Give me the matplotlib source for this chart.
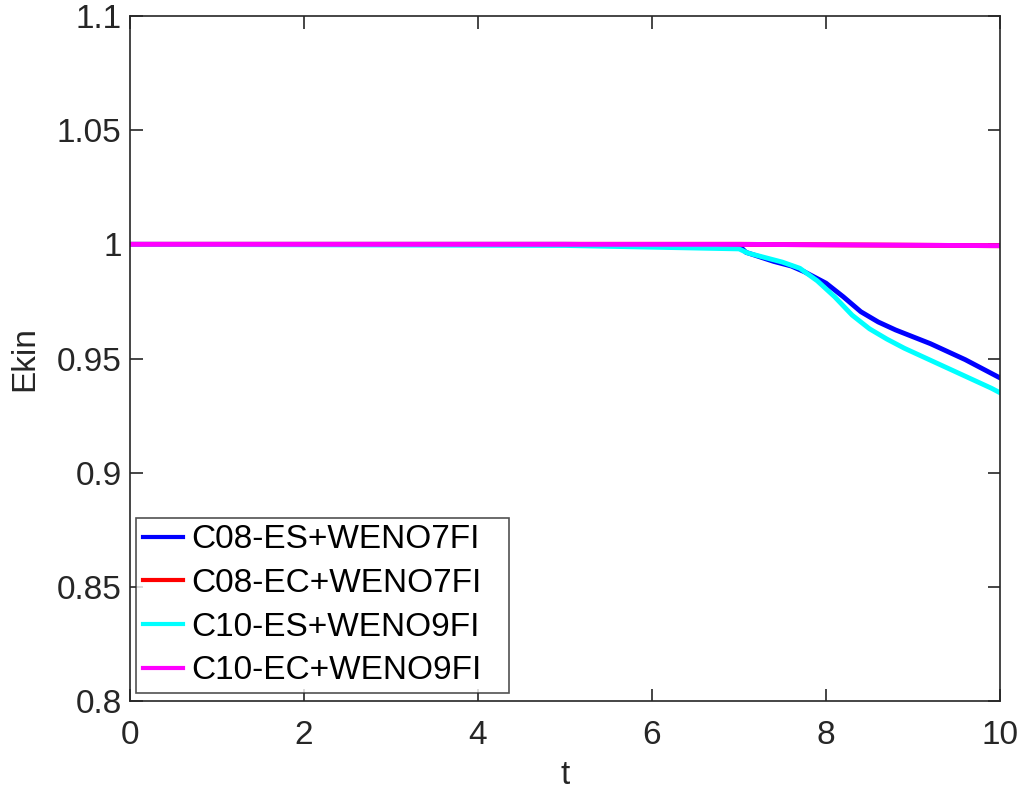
import numpy as np
import matplotlib
matplotlib.use("Agg")
import matplotlib.pyplot as plt

plt.rcParams['font.family'] = ['Liberation Sans', 'DejaVu Sans']

# data
t_blue = [0, 5, 7.0, 7.08, 7.2, 7.4, 7.6, 7.75, 7.9, 8.0, 8.2, 8.4, 8.6, 8.8, 9.0, 9.2, 9.4, 9.6, 9.8, 10]
e_blue = [1.0, 1.0, 0.9995, 0.9965, 0.9950, 0.9925, 0.9905, 0.9880, 0.9850, 0.9830, 0.9770, 0.9705,
          0.9660, 0.9625, 0.9595, 0.9565, 0.9530, 0.9495, 0.9455, 0.9415]

t_red = [0, 5, 7, 8, 9, 10]
e_red = [1.0, 1.0, 1.0, 0.9998, 0.9996, 0.9994]

t_cyan = [0, 5, 7.0, 7.1, 7.3, 7.5, 7.7, 7.9, 8.1, 8.3, 8.5, 8.7, 8.9, 9.1, 9.3, 9.5, 9.7, 9.9, 10]
e_cyan = [1.0, 0.9995, 0.998, 0.9962, 0.9942, 0.9922, 0.9895, 0.9840, 0.9770, 0.9690, 0.9630,
          0.9585, 0.9545, 0.9510, 0.9475, 0.9440, 0.9405, 0.9370, 0.9350]

t_mag = [0, 5, 7, 8, 9, 10]
e_mag = [1.0, 1.0, 1.0, 0.9998, 0.9996, 0.9994]

labels = ["C08-ES+WENO7FI", "C08-EC+WENO7FI", "C10-ES+WENO9FI", "C10-EC+WENO9FI"]
colors = ["#0000ff", "#ff0000", "#00ffff", "#ff00ff"]

fig = plt.figure(figsize=(10.18, 7.89), dpi=100)
ax = fig.add_axes([130/1018, 1 - 701/789, 870/1018, 685/789])

for t, e, lab, c in zip([t_blue, t_red, t_cyan, t_mag], [e_blue, e_red, e_cyan, e_mag], labels, colors):
    ax.plot(t, e, color=c, lw=3.5, label=lab)

ax.set_xlim(0, 10)
ax.set_ylim(0.8, 1.1)
ax.set_xticks([0, 2, 4, 6, 8, 10])
ax.set_yticks([0.8, 0.85, 0.9, 0.95, 1.0, 1.05, 1.1])
ax.set_yticklabels(["0.8", "0.85", "0.9", "0.95", "1", "1.05", "1.1"])

dark = "#262626"
for s in ax.spines.values():
    s.set_color(dark)
    s.set_linewidth(1.2)
ax.tick_params(direction="in", length=9, width=1.2, top=True, right=True,
               labelsize=24, colors=dark)
ax.tick_params(axis="y", pad=6)
ax.tick_params(axis="x", pad=14)
ax.set_xlabel("t", fontsize=24, color=dark, labelpad=6)
ax.set_ylabel("Ekin", fontsize=24, color=dark, labelpad=12)

leg = ax.legend(loc="lower left", bbox_to_anchor=(0.0069, 0.0117, 0.4287, 0.263), mode="expand",
                fontsize=24, frameon=True, fancybox=False, borderaxespad=0, handlelength=1.2,
                handletextpad=0.25, labelspacing=0.38, borderpad=0.2)
leg.get_frame().set_edgecolor(dark)
leg.get_frame().set_linewidth(1.2)
for h in leg.get_lines():
    h.set_linewidth(3.0)

fig.savefig("out.png", dpi=100)
